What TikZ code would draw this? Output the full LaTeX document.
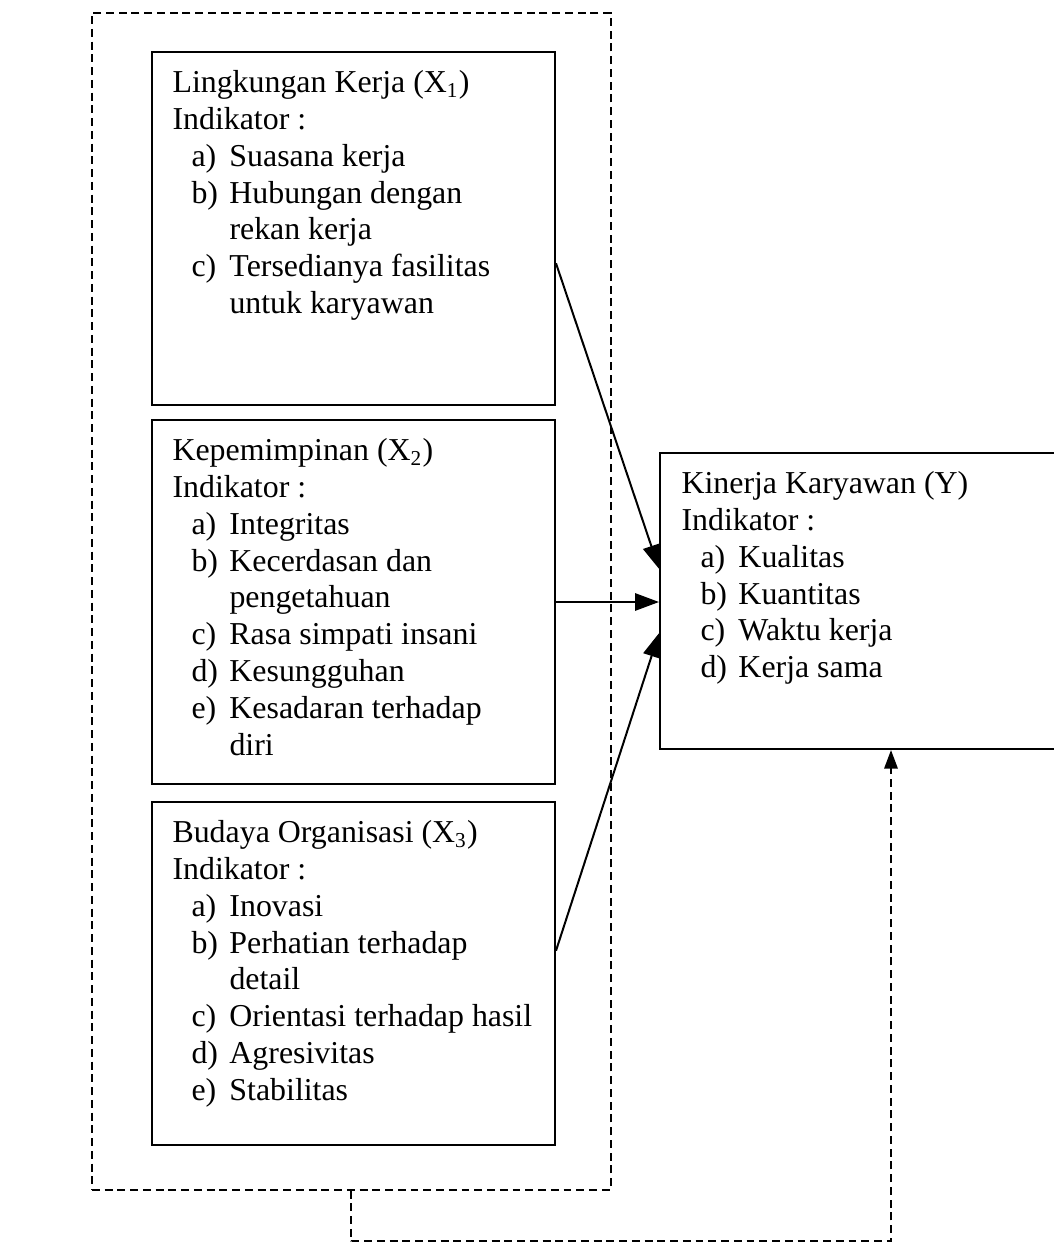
\documentclass[tikz,border=0pt]{standalone}
\usepackage{fontspec}
\setmainfont{Liberation Serif}
\usetikzlibrary{arrows.meta, positioning, calc}

% one unit of the picture
\newcommand{\pu}{0.3765pt}
% list label and continuation indent
\newcommand{\itm}[1]{\hspace*{7.15pt}\makebox[14.3pt][l]{#1}}
\newcommand{\cnt}{\hspace*{21.45pt}}

\begin{document}
\begin{tikzpicture}[x=0.3765pt, y=-0.3765pt,
  box/.style={draw, line width=0.75pt, anchor=north west, inner sep=0pt},
  grpbox/.style={draw, line width=0.6pt, dash pattern=on 3pt off 1.8pt, anchor=north west, inner sep=0pt},
  txt/.style={anchor=north west, align=left, inner sep=0pt, font=\fontsize{12}{13.86}\selectfont},
  link/.style={line width=0.75pt, -{Triangle[length=9pt,width=6.5pt]}},
  flow/.style={line width=0.85pt, dash pattern=on 3pt off 1.8pt, -{Triangle[length=7pt,width=5pt]}}]
\useasboundingbox (0,0) rectangle (1054,1242);
\clip (0,0) rectangle (1054,1242);

% dashed group round the three variables
\node[grpbox, minimum width=519*\pu, minimum height=1177*\pu] (grp) at (91,12) {};

% independent variables
\node[box, minimum width=403*\pu, minimum height=353*\pu] (x1) at (151,51) {};
\node[box, minimum width=403*\pu, minimum height=364*\pu] (x2) at (151,419) {};
\node[box, minimum width=403*\pu, minimum height=343*\pu] (x3) at (151,801) {};
% dependent variable
\node[box, minimum width=462*\pu, minimum height=296*\pu] (y) at (659,452) {};

\node[txt] (t1) at ($(x1.north west)+(21,19)$) {Lingkungan Kerja (X\textsubscript{1})\\
Indikator :\\
\itm{a)}Suasana kerja\\
\itm{b)}Hubungan dengan\\
\cnt rekan kerja\\
\itm{c)}Tersedianya fasilitas\\
\cnt untuk karyawan};

\node[txt] (t2) at ($(x2.north west)+(21,19)$) {Kepemimpinan (X\textsubscript{2})\\
Indikator :\\
\itm{a)}Integritas\\
\itm{b)}Kecerdasan dan\\
\cnt pengetahuan\\
\itm{c)}Rasa simpati insani\\
\itm{d)}Kesungguhan\\
\itm{e)}Kesadaran terhadap\\
\cnt diri};

\node[txt] (t3) at ($(x3.north west)+(21,19)$) {Budaya Organisasi (X\textsubscript{3})\\
Indikator :\\
\itm{a)}Inovasi\\
\itm{b)}Perhatian terhadap\\
\cnt detail\\
\itm{c)}Orientasi terhadap hasil\\
\itm{d)}Agresivitas\\
\itm{e)}Stabilitas};

\node[txt] (ty) at ($(y.north west)+(22,19)$) {Kinerja Karyawan (Y)\\
Indikator :\\
\itm{a)}Kualitas\\
\itm{b)}Kuantitas\\
\itm{c)}Waktu kerja\\
\itm{d)}Kerja sama};

% arrows into Y
\draw[link] ($(x1.north east)!0.598!(x1.south east)$) -- ($(y.north west)!0.392!(y.south west)$);
\draw[link] (x2.east) -- (x2.east -| y.west);
\draw[link] ($(x3.north east)!0.434!(x3.south east)$) -- ($(y.north west)!0.608!(y.south west)$);

% simultaneous effect
\draw[flow] (grp.south) -- ++(0,51) -| (y.south);
\end{tikzpicture}
\end{document}
